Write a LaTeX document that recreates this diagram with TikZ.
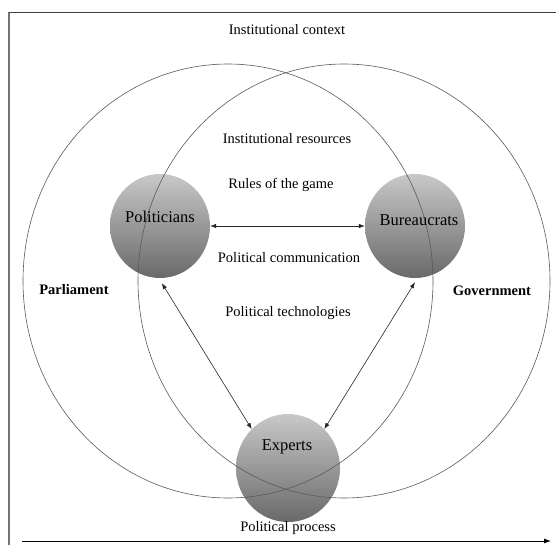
\documentclass[tikz,border=0pt]{standalone}
\usepackage{fontspec}
\setmainfont{Liberation Serif}
\usetikzlibrary{arrows.meta,shapes.geometric}
\definecolor{balltop}{RGB}{200,200,200}
\definecolor{ballbot}{RGB}{105,105,105}
\definecolor{ringcol}{RGB}{90,90,90}
\begin{document}
\begin{tikzpicture}[x=1pt,y=-1pt,
  txt/.style={font=\fontsize{14.5}{17}\selectfont, inner sep=0pt},
  btxt/.style={font=\fontsize{14.5}{17}\selectfont\bfseries, inner sep=0pt},
  ball/.style={ellipse, minimum width=100pt, minimum height=104pt, inner sep=0pt,
     top color=balltop, bottom color=ballbot, draw=none},
  balltxt/.style={font=\fontsize{16.5}{19}\selectfont, inner sep=0pt},
  ring/.style={draw=ringcol, line width=0.6pt},
  link/.style={draw=black!85, line width=0.6pt, {Latex[length=6pt,width=4.5pt]}-{Latex[length=6pt,width=4.5pt]}}
]
\useasboundingbox (0,0) rectangle (556,545);
% frame
\draw[draw=black!55, line width=1.6pt] (9,12) coordinate (fa) -- (9,545) coordinate (fb);
\draw[draw=black!75, line width=0.8pt] (9,12) -- (556,12) coordinate (fc);
% balls
\node[ball] (politicians) at (160,226) {};
\node[ball] (bureaucrats) at (415,226) {};
\node[ball, minimum width=104pt, minimum height=108pt] (experts) at (288,468) {};
% rings
\draw[ring] (228,281) ellipse [x radius=205, y radius=217];
\draw[ring] (344,281) ellipse [x radius=206, y radius=217];
% ball labels
\node[balltxt] (tp) at (160,217) {Politicians};
\node[balltxt] (tb) at (419,220) {Bureaucrats};
\node[balltxt] (te) at (287,447) {Experts};
% texts
\node[txt] (ic) at (287,30) {Institutional context};
\node[txt] (ir) at (287,139) {Institutional resources};
\node[txt] (rg) at (281,185) {Rules of the game};
\node[txt] (pc) at (289,258) {Political communication};
\node[txt] (pt) at (288,313) {Political technologies};
\node[btxt] (pa) at (74,290) {Parliament};
\node[btxt] (go) at (492,291) {Government};
\node[txt] (pp) at (288,528) {Political process};
% connectors
\draw[link] (politicians.east) -- (bureaucrats.west);
\draw[link] ([yshift=-5pt]politicians.-88) -- (experts.133);
\draw[link] ([yshift=-4pt]bureaucrats.-90) -- (experts.47);
% process arrow
\coordinate (ps) at (22,541);
\coordinate (pe) at (551,541);
\draw[draw=black, line width=0.9pt, -{Latex[length=7pt,width=5pt]}] (ps) -- (pe);
\end{tikzpicture}
\end{document}
